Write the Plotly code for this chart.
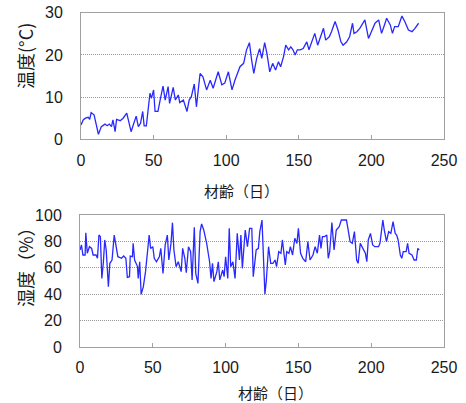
import plotly.graph_objects as go

# Temperature readings (age in days, °C)
temp_days = [0, 1.5, 3, 5, 6, 7, 9, 11, 12, 14, 16.5, 18, 19.5, 21, 22, 23.5, 24.5, 27, 29, 31.5,
             32.5, 34.5, 36, 38, 39.5, 41, 42.5, 43.5, 45, 46, 47.5, 48.5, 50, 51, 53, 54.5, 56.5, 58, 60, 61,
             63.5, 65, 67, 68, 70.5, 73, 74.5, 76, 78, 79.5, 82, 84, 86.5, 89, 91, 94.5, 97, 99, 101.5, 104,
             106, 109.5, 112, 114, 116, 117.5, 119, 121, 123, 124.5, 126.5, 128, 130, 132, 134, 136, 137.5,
             139.5, 141, 143, 144.5, 146, 147.5, 149, 151, 153, 155.5, 157, 159, 161, 163, 165, 167, 168.5,
             171, 172.5, 175, 177, 179, 180.5, 183, 185, 187, 188, 190, 192, 195.5, 198, 200, 202.5, 205,
             207, 209, 210.5, 213, 214.5, 216, 218.5, 221, 223, 225.5, 228, 230, 232.5]
temp_vals = [3.4, 4.6, 5.0, 5.2, 4.7, 6.3, 5.8, 2.6, 1.2, 3.0, 3.6, 3.2, 3.6, 3.0, 4.6, 1.8, 4.7, 4.4, 5.0, 6.2,
             4.6, 1.8, 3.4, 5.5, 3.0, 3.8, 6.6, 3.2, 3.2, 6.9, 10.9, 9.7, 11.7, 6.6, 6.6, 9.3, 12.6, 9.3, 12.5, 8.5,
             12.3, 9.3, 10.5, 8.7, 9.3, 6.6, 9.3, 10.1, 13.1, 7.7, 15.6, 14.8, 11.7, 14.0, 12.1, 16.0, 12.9, 13.3, 16.0, 11.7,
             14.0, 17.2, 18.0, 21.2, 22.9, 18.8, 15.6, 19.2, 21.5, 19.2, 22.9, 20.4, 16.0, 18.0, 16.4, 18.4, 17.2,
             19.6, 22.3, 21.2, 21.9, 21.2, 20.0, 21.2, 21.2, 21.5, 23.1, 21.2, 23.1, 25.1, 22.3, 24.3, 26.3, 23.5,
             24.3, 25.5, 27.9, 25.9, 23.1, 22.3, 23.1, 24.3, 27.5, 25.1, 25.5, 26.3, 28.3, 23.9, 25.5, 27.5, 28.3,
             25.1, 27.1, 28.7, 27.1, 25.1, 26.7, 26.7, 29.2, 27.9, 25.9, 25.5, 26.3, 27.5]

# Humidity readings (age in days, %)
hum_days = [0, 1, 2, 3.5, 4, 5, 6.5, 8, 9, 11, 12, 13, 14, 15, 16, 17, 18, 19.5, 20.5, 22, 23.5, 25, 26,
            28.5, 30, 31.5, 32.5, 34, 34.5, 36, 36.5, 37.5, 39.5, 40, 41, 42, 43.5, 45, 47.5, 48.5, 50, 51,
            52.5, 54.5, 55.5, 57, 58.5, 60, 61, 62.5, 63.5, 64.5, 66, 67.5, 69.5, 70.5, 72, 73, 74.5, 76, 77,
            78.5, 79.5, 81, 82.5, 83.5, 85, 87, 89, 90, 91, 92, 94, 95, 96, 98, 99, 100, 101.5, 102.5, 103.5,
            105, 106.5, 108, 109.5, 110.5, 111.5, 113.5, 115, 116.5, 118, 119, 121, 122.5, 123.5, 125, 126,
            127, 128, 129.5, 131, 132.5, 134, 135, 136.5, 138, 139, 141, 142, 143.5, 144.5, 146, 147.5, 149,
            150, 151.5, 153, 155, 156.5, 158, 160, 161.5, 163, 164.5, 165.5, 166.5, 168, 169.5, 170.5, 171.5,
            173, 174.5, 176, 178, 179.5, 183, 184, 185.5, 187, 188.5, 190, 191, 192.5, 194, 196, 197, 198,
            199.5, 201, 202.5, 205, 206, 208, 209, 210.5, 212, 213.5, 215, 216.5, 217.5, 218.5, 220, 221, 222,
            224, 225, 226, 228, 229.5, 231, 232, 233]
hum_vals = [73.5, 77.3, 69.7, 69.7, 86.6, 71.0, 76.0, 74.7, 69.7, 69.7, 67.2, 84.8, 83.6, 52.0, 63.4, 81.1, 73.5, 45.7, 63.4, 65.9, 84.8, 73.5, 68.4,
            67.2, 68.9, 67.2, 52.8, 53.3, 68.9, 68.4, 78.5, 65.9, 60.9, 52.0, 64.6, 40.0, 45.7, 57.1, 84.8, 74.7, 76.0, 67.2,
            64.6, 68.4, 74.7, 55.8, 77.3, 84.8, 65.9, 78.5, 94.2, 73.5, 60.9, 64.6, 57.1, 74.7, 67.2, 56.3, 76.0, 72.2, 50.8,
            90.7, 55.8, 48.2, 87.4, 93.2, 88.6, 78.5, 64.6, 52.0, 63.4, 49.5, 57.1, 64.6, 50.8, 58.3, 53.3, 68.4, 52.0, 89.9, 60.9,
            64.6, 52.0, 86.1, 65.9, 84.8, 59.6, 88.6, 76.0, 89.9, 89.9, 53.3, 73.5, 74.7, 87.4, 96.2, 71.0,
            40.0, 50.8, 76.0, 63.4, 63.4, 65.9, 60.9, 72.2, 71.0, 81.1, 62.1, 72.2, 71.0, 76.0, 69.7, 82.3, 78.5,
            89.9, 71.0, 67.2, 64.6, 79.8, 65.9, 69.7, 76.0, 71.0, 84.8, 74.7, 83.6, 83.6, 84.8, 67.2, 72.2,
            94.2, 73.5, 88.6, 91.2, 96.2, 96.2, 89.9, 79.8, 78.5, 87.4, 65.9, 63.4, 78.5, 74.7, 71.0, 64.6, 81.1,
            86.1, 77.3, 76.0, 76.0, 78.5, 96.2, 88.6, 79.8, 87.4, 86.1, 94.9, 86.1, 84.8, 81.1, 69.7, 67.2, 72.2,
            72.2, 78.5, 71.0, 69.7, 65.9, 65.9, 74.7, 73.5]

x_ticks = [0, 50, 100, 150, 200, 250]
temp_ticks = [0, 10, 20, 30]
hum_ticks = [0, 20, 40, 60, 80, 100]

W, H = 466, 403
LINE = "rgb(40,40,255)"
GRID = "#999999"
FRAME = "#a0a0a0"
NUM_FONT = dict(family="Liberation Sans, Arial, sans-serif", size=16, color="#1a1a1a")
XT_FONT = dict(family="Noto Sans CJK JP, sans-serif", size=15, color="#1a1a1a")
YT_FONT = dict(family="Noto Sans CJK JP, sans-serif", size=18, color="#1a1a1a")

fig = go.Figure()
fig.add_trace(go.Scatter(x=temp_days, y=temp_vals, mode="lines", line=dict(color=LINE, width=1.3),
                         xaxis="x", yaxis="y", showlegend=False, hoverinfo="skip"))
fig.add_trace(go.Scatter(x=hum_days, y=hum_vals, mode="lines", line=dict(color=LINE, width=1.3),
                         xaxis="x2", yaxis="y2", showlegend=False, hoverinfo="skip"))

def fx(p):
    return p / W

def fy(p):
    return 1 - p / H

def px_x(a, b):
    return [fx(a), fx(b)]

def px_y(top, bottom):
    return [fy(bottom), fy(top)]

xcommon = dict(range=[0, 250], tickvals=x_ticks, showgrid=False, zeroline=False,
               showline=True, mirror=True, linecolor=FRAME, linewidth=1,
               ticks="inside", ticklen=4, tickcolor=FRAME, tickfont=NUM_FONT,
               ticklabelstandoff=6, fixedrange=True, automargin=False,
               ticklabeloverflow="allow")
ycommon = dict(showgrid=True, gridcolor=GRID, griddash="1px,1px", gridwidth=1, zeroline=False,
               showline=True, mirror=True, linecolor=FRAME, linewidth=1,
               ticks="", tickfont=NUM_FONT, ticklabelstandoff=14, fixedrange=True, automargin=False,
               ticklabeloverflow="allow")

fig.update_layout(
    width=W, height=H,
    margin=dict(l=0, r=0, t=0, b=0),
    paper_bgcolor="white", plot_bgcolor="white",
    xaxis=dict(domain=px_x(81, 444), anchor="y", **xcommon),
    yaxis=dict(domain=px_y(12.7, 139.3), anchor="x", range=[0, 30], tickvals=temp_ticks, **ycommon),
    xaxis2=dict(domain=px_x(80, 444), anchor="y2", **xcommon),
    yaxis2=dict(domain=px_y(215, 347), anchor="x2", range=[0, 100], tickvals=hum_ticks, **ycommon),
    annotations=[
        dict(text="材齢（日）", x=fx(242), y=fy(190), xref="paper", yref="paper",
             showarrow=False, font=XT_FONT, xanchor="center", yanchor="middle"),
        dict(text="温度(°C)", x=fx(25), y=fy(56), xref="paper", yref="paper",
             showarrow=False, font=YT_FONT, textangle=-90, xanchor="center", yanchor="middle"),
        dict(text="材齢（日）", x=fx(275), y=fy(392), xref="paper", yref="paper",
             showarrow=False, font=XT_FONT, xanchor="center", yanchor="middle"),
        dict(text="湿度（%）", x=fx(25), y=fy(263), xref="paper", yref="paper",
             showarrow=False, font=YT_FONT, textangle=-90, xanchor="center", yanchor="middle"),
    ],
)

# Remove the browser's default 8 px body margin so the figure sits at the page origin.
fig.write_html("out.html", config={"displayModeBar": False},
               post_script="document.body.style.margin='0';")
